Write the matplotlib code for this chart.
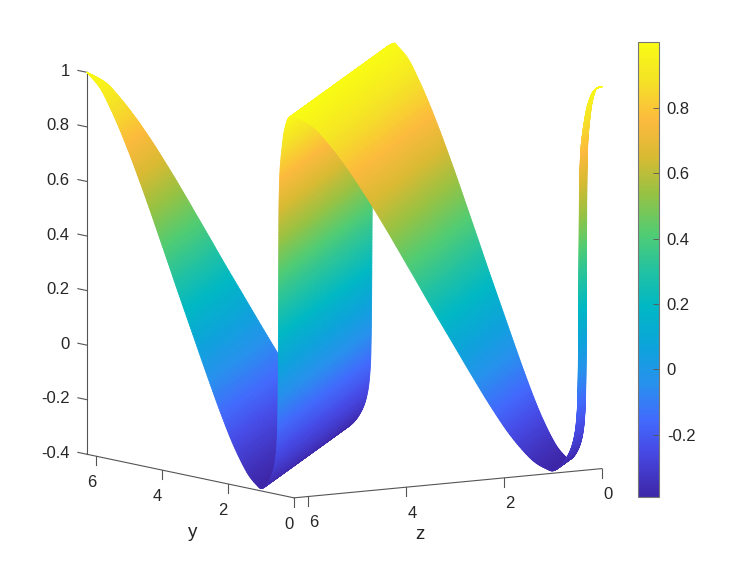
import numpy as np
import matplotlib
matplotlib.use("Agg")
import matplotlib.pyplot as plt
from matplotlib.cm import ScalarMappable
from matplotlib.colors import LinearSegmentedColormap, Normalize
from mpl_toolkits.mplot3d import proj3d

plt.rcParams['font.family'] = ['Liberation Sans', 'DejaVu Sans']

TWO_PI = 6.2832

# height of the sheet against (y + z) modulo 2 pi
profile_sum = [0, .06, .18, .27, .34, .42, .45, .46, .465, .47, .475, .48, .49, .505,
               .55, .64, .79, .97, 1.12, 1.43, 1.85, 2.25, 2.64, 3.07, 3.50, 3.77,
               4.07, 4.38, 4.68, 4.98, 5.29, 5.59, 5.90, 6.2832]
profile_height = [1, .998, .985, .95, .90, .80, .70, .60, .45, .30, .15, .02, -.10, -.18,
                  -.26, -.32, -.365, -.39, -.383, -.343, -.251, -.139, -.018, .12, .258,
                  .347, .445, .546, .64, .73, .816, .89, .955, 1]

y_ticks = [0, 2, 4, 6]
z_ticks = [0, 2, 4, 6]
w_ticks = [-0.4, -0.2, 0, 0.2, 0.4, 0.6, 0.8, 1]
bar_ticks = [-0.2, 0, 0.2, 0.4, 0.6, 0.8]
w_min, w_max = -0.4, 1.0
bar_min, bar_max = -0.39, 1.0

parula_stops = [
    (0.00, (.2422, .1504, .6603)), (0.10, (.2780, .2900, .9000)),
    (0.17, (.2586, .4200, .9900)), (0.25, (.1540, .5700, .9300)),
    (0.33, (.0500, .6400, .8600)), (0.42, (.0000, .7200, .7700)),
    (0.50, (.1400, .7600, .6300)), (0.58, (.3200, .8000, .4500)),
    (0.67, (.6000, .7600, .2600)), (0.75, (.8500, .7300, .2000)),
    (0.83, (.9900, .7300, .2400)), (0.92, (.9600, .8900, .1500)),
    (1.00, (.9770, .9840, .0800)),
]


def refine(values, n=14):
    # extra mesh rows between the read rows (Catmull-Rom), so the edges stay round
    p = np.asarray(values, dtype=float)
    p = np.concatenate([[2 * p[0] - p[1]], p, [2 * p[-1] - p[-2]]])
    rows = []
    for i in range(1, len(p) - 2):
        u = np.linspace(0, 1, n, endpoint=False)
        rows.append(0.5 * (2 * p[i] + (p[i + 1] - p[i - 1]) * u
                           + (2 * p[i - 1] - 5 * p[i] + 4 * p[i + 1] - p[i + 2]) * u ** 2
                           + (3 * p[i] - p[i - 1] - 3 * p[i + 1] + p[i + 2]) * u ** 3))
    rows.append([p[-2]])
    return np.concatenate(rows)


def build_mesh(n_cols=50):
    s = np.clip(refine(profile_sum), 0, TWO_PI)
    h = refine(profile_height)
    v = np.linspace(0, 1, n_cols)[None, :]

    # below the diagonal y + z = 2 pi, then above it
    y_lo = s[:, None] * v
    z_lo = s[:, None] - y_lo
    y_up = s[1:, None] + (TWO_PI - s[1:, None]) * v
    z_up = s[1:, None] + TWO_PI - y_up

    Y = np.vstack([y_lo, y_up])
    Z = np.vstack([z_lo, z_up])
    W = np.repeat(np.concatenate([h, h[1:]])[:, None], n_cols, axis=1)
    return Y, Z, W


def label(ax, y, z, w, s, **kw):
    # Text3D reports its unprojected position, so place labels from the projection
    px, py, _ = proj3d.proj_transform(y, z, w, ax.get_proj())
    ax.text2D(px, py, s, transform=ax.transData, color='#262626', **kw)


def draw_axes(ax):
    line = dict(color='#555555', lw=0.8, zorder=1, clip_on=False)
    text = dict(fontsize=12, zorder=5)

    ax.plot([0, TWO_PI], [TWO_PI, TWO_PI], [w_min, w_min], **line)
    ax.plot([0, 0], [0, TWO_PI], [w_min, w_min], **line)
    ax.plot([TWO_PI, TWO_PI], [TWO_PI, TWO_PI], [w_min, w_max], **line)

    for t in y_ticks:
        ax.plot([t, t], [TWO_PI, TWO_PI], [w_min, w_min - 0.033], **line)
        label(ax, t + 0.15, TWO_PI, w_min - 0.101, str(t), ha='center', va='center', **text)
    for t in z_ticks:
        ax.plot([0, 0], [t, t], [w_min, w_min - 0.033], **line)
        label(ax, 0, t - 0.12, w_min - 0.097, str(t), ha='center', va='center', **text)
    for t in w_ticks:
        ax.plot([TWO_PI, TWO_PI + 0.28], [TWO_PI, TWO_PI], [t, t], **line)
        label(ax, TWO_PI + 0.53, TWO_PI, t - 0.01, f"{t:g}", ha='right', va='center', **text)

    label(ax, 3.07, TWO_PI, -0.605, "y", ha='center', va='center', fontsize=13.5)
    label(ax, 0, 3.71, -0.58, "z", ha='center', va='center', fontsize=13.5)


def main():
    fig = plt.figure(figsize=(7.47, 5.61), dpi=100)
    cmap = LinearSegmentedColormap.from_list("parula_like", parula_stops, N=256)
    norm = Normalize(bar_min, bar_max)

    side = 486.3
    ax = fig.add_axes([94.8 / 747, 40.8 / 561, side / 747, side / 561],
                      projection='3d', computed_zorder=False)
    ax.set_proj_type('ortho')
    ax.view_init(elev=8.13, azim=146.1)
    ax.set_box_aspect((1, 1, 1.04), zoom=1.3)
    ax.set_xlim(0, TWO_PI)
    ax.set_ylim(0, TWO_PI)
    ax.set_zlim(w_min, w_max)
    ax.set_xticks([])
    ax.set_yticks([])
    ax.set_zticks([])
    ax.set_axis_off()

    Y, Z, W = build_mesh()
    colors = cmap(norm(W))
    surf = ax.plot_surface(Y, Z, W, facecolors=colors, rstride=1, cstride=1, shade=False,
                           linewidth=0.6, antialiased=True, zorder=2)
    surf.set_clip_on(False)
    draw_axes(ax)

    cax = fig.add_axes([638 / 747, (561 - 497) / 561, 20.5 / 747, 454.7 / 561])
    cb = fig.colorbar(ScalarMappable(norm=norm, cmap=cmap), cax=cax)
    cb.set_ticks(bar_ticks)
    cb.set_ticklabels([f"{t:g}" for t in bar_ticks])
    cb.ax.tick_params(direction='in', length=4, width=0.6, color='#555555',
                      labelsize=12, labelcolor='#262626', pad=6)
    cb.outline.set_edgecolor('#777777')
    cb.outline.set_linewidth(0.8)

    fig.savefig("out.png", dpi=100)
    plt.close(fig)


if __name__ == "__main__":
    main()
